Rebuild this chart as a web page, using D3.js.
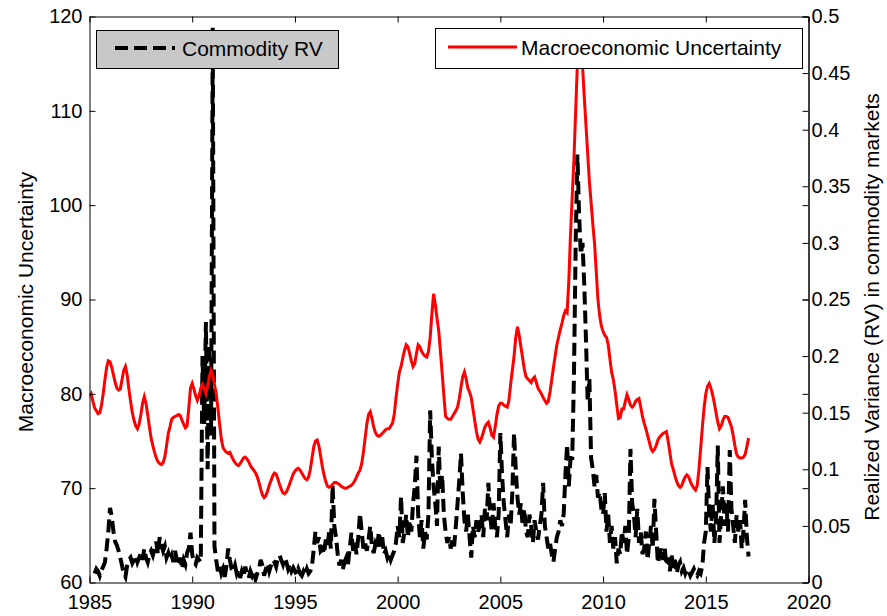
<!DOCTYPE html>
<html>
<head>
<meta charset="utf-8">
<script src="https://cdn.jsdelivr.net/npm/d3@7"></script>
<style>
  body { margin: 0; background: #fff; }
  text { font-family: "Liberation Sans", Arial, sans-serif; fill: #000; }
</style>
</head>
<body>
<div id="app"></div>
<script>
// Macroeconomic uncertainty, monthly, first value = Jan 1985
let macroStart = 1985;
let macroUncertainty = [
  79.7, 80.0, 79.2, 78.5, 78.2, 77.9, 78.0, 78.8, 80.0, 81.5, 82.8, 83.5,
  83.4, 82.8, 82.0, 81.2, 80.6, 80.4, 80.5, 81.5, 82.5, 82.9, 82.0, 80.5,
  79.2, 78.0, 77.2, 76.6, 76.3, 76.8, 77.8, 79.0, 79.7, 79.0, 77.8, 76.5,
  75.3, 74.5, 73.8, 73.2, 72.8, 72.6, 72.5, 72.7, 73.3, 74.5, 75.8, 76.5,
  77.3, 77.5, 77.6, 77.7, 77.8, 77.7, 77.2, 76.8, 76.4, 76.6, 78.5, 80.6,
  81.1, 80.5, 79.8, 79.3, 79.8, 80.6, 81.0, 80.5, 80.0, 80.8, 81.8, 82.5,
  82.0, 81.0, 80.0, 78.5, 76.8, 75.2, 74.3, 74.0, 73.8, 73.7, 73.8, 73.4,
  73.0, 72.7, 72.5, 72.4, 72.6, 72.9, 73.2, 73.3, 73.1, 72.8, 72.4, 72.1,
  71.9, 71.6, 71.2, 70.6, 69.9, 69.3, 69.0, 69.2, 69.7, 70.3, 70.8, 71.3,
  71.6, 71.5, 71.0, 70.4, 69.9, 69.5, 69.4, 69.6, 70.0, 70.5, 71.0, 71.5,
  71.8, 72.0, 72.1, 71.9, 71.6, 71.3, 71.0, 70.9, 71.2, 72.0, 73.2, 74.4,
  75.0, 75.1, 74.5, 73.4, 72.3, 71.4, 70.7, 70.2, 70.1, 70.2, 70.4, 70.6,
  70.6, 70.5, 70.4, 70.2, 70.1, 70.0, 70.0, 70.1, 70.2, 70.3, 70.5, 70.8,
  71.2, 71.6, 71.9, 72.6, 73.8, 75.3, 76.8, 77.8, 78.1, 77.4, 76.5, 75.9,
  75.6, 75.5, 75.6, 75.8, 76.0, 76.2, 76.3, 76.3, 76.6, 76.9, 77.8, 79.5,
  81.0, 82.3, 82.9, 83.8, 84.6, 85.2, 85.0, 84.3, 83.5, 82.9, 83.2, 84.3,
  85.2, 85.0, 84.5, 84.2, 84.0, 83.9, 84.5, 86.0, 88.5, 90.6, 89.5, 88.0,
  86.7, 84.5, 82.2, 79.8, 77.6, 77.4, 77.3, 77.3, 77.6, 77.9, 78.2, 78.6,
  79.5, 80.7, 81.8, 82.3, 81.6, 80.6, 80.2, 79.6, 78.4, 77.2, 76.0, 75.2,
  74.9, 75.3, 75.9, 76.5, 76.8, 77.0, 76.4, 75.6, 75.4, 76.5, 77.8, 78.7,
  79.0, 79.0, 78.8, 78.7, 78.6, 79.3, 81.0, 82.5, 84.0, 86.0, 87.1, 86.2,
  85.0, 83.8, 82.6, 81.8, 81.6, 81.4, 81.2, 81.6, 81.8, 81.2, 80.6, 80.3,
  80.0, 79.6, 79.3, 79.0, 79.2, 80.2, 81.5, 82.8, 84.0, 85.2, 86.0, 86.8,
  87.5, 88.3, 88.8, 88.6, 92.0, 97.0, 101.0, 105.0, 110.0, 115.0, 116.8, 116.5,
  114.8, 111.5, 108.5, 105.5, 102.5, 100.3, 98.0, 96.0, 93.0, 90.0, 88.3, 87.2,
  86.6, 86.2, 86.0, 85.2, 83.7, 82.3, 81.5, 80.3, 78.8, 77.4, 77.5, 78.4,
  78.4, 79.2, 79.9, 79.4, 78.8, 78.6, 78.8, 79.2, 79.4, 79.5, 78.6, 77.6,
  76.9, 76.3, 75.6, 74.9, 74.2, 73.9, 74.1, 74.5, 75.1, 75.4, 75.6, 75.8,
  75.9, 76.0, 75.0, 73.8, 72.6, 72.0, 71.3, 70.7, 70.3, 70.1, 70.3, 70.8,
  71.2, 71.4, 71.2, 70.7, 70.3, 70.0, 69.8, 70.3, 72.0, 74.2, 76.5, 78.5,
  80.0, 80.8, 81.1, 80.6, 79.9, 79.0, 78.0, 77.0, 76.3, 76.6, 77.2, 77.6,
  77.6, 77.5, 77.0, 76.5, 75.6, 74.5, 73.6, 73.3, 73.2, 73.2, 73.3, 73.6,
  74.4, 75.3
];

// Realized variance in commodity markets, monthly, first value = Apr 1985
let rvStart = 1985.25;
let commodityRV = [
  0.008, 0.012, 0.010, 0.006, 0.011, 0.014, 0.018, 0.030, 0.045,
  0.066, 0.058, 0.045, 0.036, 0.033, 0.028, 0.022, 0.015, 0.008, 0.005, 0.015, 0.020,
  0.022, 0.017, 0.020, 0.024, 0.018, 0.022, 0.026, 0.020, 0.030, 0.022, 0.018, 0.025,
  0.028, 0.024, 0.030, 0.036, 0.025, 0.040, 0.034, 0.028, 0.032, 0.022, 0.026, 0.020,
  0.024, 0.018, 0.028, 0.020, 0.015, 0.022, 0.012, 0.020, 0.016, 0.026, 0.030, 0.044,
  0.025, 0.018, 0.016, 0.022, 0.020, 0.018, 0.200, 0.140, 0.230, 0.100, 0.210, 0.130,
  0.490, 0.032, 0.020, 0.010, 0.015, 0.008, 0.012, 0.005, 0.015, 0.030, 0.020, 0.012,
  0.010, 0.015, 0.008, 0.012, 0.004, 0.010, 0.006, 0.014, 0.008, 0.004, 0.010, 0.006,
  0.010, 0.003, 0.008, 0.012, 0.020, 0.015, 0.006, 0.012, 0.017, 0.010, 0.015, 0.020,
  0.018, 0.014, 0.022, 0.024, 0.020, 0.016, 0.022, 0.018, 0.012, 0.016, 0.010, 0.013,
  0.010, 0.007, 0.012, 0.008, 0.006, 0.010, 0.007, 0.012, 0.008, 0.010, 0.015, 0.030,
  0.045, 0.035, 0.040, 0.028, 0.030, 0.025, 0.038, 0.032, 0.045, 0.030, 0.086, 0.050,
  0.040, 0.025, 0.015, 0.020, 0.012, 0.018, 0.022, 0.016, 0.030, 0.044, 0.028, 0.035,
  0.025, 0.040, 0.061, 0.045, 0.030, 0.035, 0.028, 0.038, 0.050, 0.032, 0.026, 0.034,
  0.030, 0.045, 0.032, 0.040, 0.025, 0.028, 0.022, 0.026, 0.020, 0.024, 0.028, 0.035,
  0.050, 0.040, 0.076, 0.035, 0.045, 0.060, 0.040, 0.055, 0.045, 0.070, 0.085, 0.112,
  0.060, 0.040, 0.055, 0.030, 0.045, 0.038, 0.060, 0.152, 0.110, 0.085, 0.070, 0.050,
  0.120, 0.080, 0.095, 0.060, 0.045, 0.035, 0.040, 0.030, 0.038, 0.032, 0.050, 0.070,
  0.090, 0.114, 0.080, 0.055, 0.045, 0.060, 0.040, 0.022, 0.050, 0.040, 0.055, 0.045,
  0.050, 0.060, 0.040, 0.065, 0.055, 0.088, 0.060, 0.045, 0.070, 0.050, 0.040, 0.060,
  0.132, 0.095, 0.070, 0.055, 0.040, 0.060, 0.050, 0.080, 0.132, 0.100, 0.075, 0.060,
  0.070, 0.050, 0.065, 0.045, 0.040, 0.060, 0.050, 0.035, 0.055, 0.045, 0.038, 0.050,
  0.060, 0.088, 0.050, 0.040, 0.030, 0.035, 0.025, 0.018, 0.030, 0.040, 0.045, 0.055,
  0.050, 0.061, 0.095, 0.122, 0.085, 0.110, 0.110, 0.183, 0.300, 0.378, 0.325, 0.290,
  0.300, 0.264, 0.215, 0.160, 0.180, 0.110, 0.100, 0.085, 0.095, 0.075, 0.080, 0.065,
  0.060, 0.079, 0.045, 0.060, 0.035, 0.050, 0.030, 0.040, 0.017, 0.030, 0.025, 0.045,
  0.035, 0.050, 0.025, 0.040, 0.118, 0.070, 0.060, 0.040, 0.065, 0.035, 0.045, 0.025,
  0.030, 0.045, 0.020, 0.035, 0.050, 0.030, 0.074, 0.045, 0.017, 0.025, 0.030, 0.020,
  0.031, 0.015, 0.022, 0.010, 0.025, 0.012, 0.020, 0.008, 0.015, 0.018, 0.010, 0.013,
  0.008, 0.012, 0.010, 0.006, 0.009, 0.012, 0.008, 0.006, 0.010, 0.008, 0.015, 0.035,
  0.045, 0.102, 0.060, 0.045, 0.070, 0.035, 0.055, 0.121, 0.035, 0.060, 0.085, 0.050,
  0.070, 0.045, 0.117, 0.065, 0.050, 0.035, 0.060, 0.045, 0.055, 0.030, 0.045, 0.073,
  0.040, 0.023
];

let yearTicks = [1985, 1990, 1995, 2000, 2005, 2010, 2015, 2020];
let leftTicks = [60, 70, 80, 90, 100, 110, 120];
let rightTicks = [0, 0.05, 0.1, 0.15, 0.2, 0.25, 0.3, 0.35, 0.4, 0.45, 0.5];
let seriesNames = ["Commodity RV", "Macroeconomic Uncertainty"];

let plotLeft = 89.5, plotRight = 808.5, plotTop = 16.5, plotBottom = 582.5;

let svg = d3.select("#app")
  .append("svg")
    .attr("width", 887)
    .attr("height", 616);

svg.append("rect")
    .attr("width", 887)
    .attr("height", 616)
    .attr("fill", "#fff");

// scales
let x = d3.scaleLinear().domain([1985, 2020]).range([plotLeft, plotRight]);
let yLeft = d3.scaleLinear().domain([60, 120]).range([plotBottom, plotTop]);
let yRight = d3.scaleLinear().domain([0, 0.5]).range([plotBottom, plotTop]);

// build {t, v} rows from the monthly arrays
let macroRows = macroUncertainty.map((v, i) => ({t: macroStart + i / 12, v: v}));
let rvRows = commodityRV.map((v, i) => ({t: rvStart + i / 12, v: v}));

svg.append("clipPath")
    .attr("id", "plotclip")
  .append("rect")
    .attr("x", plotLeft)
    .attr("y", plotTop)
    .attr("width", plotRight - plotLeft)
    .attr("height", plotBottom - plotTop);

let lines = svg.append("g").attr("clip-path", "url(#plotclip)");

// black dashed line (right axis)
lines.append("path")
    .datum(rvRows)
    .attr("fill", "none")
    .attr("stroke", "#000")
    .attr("stroke-width", 4)
    .attr("stroke-dasharray", "13,6")
    .attr("d", d3.line().x(d => x(d.t)).y(d => yRight(d.v)));

// red line (left axis)
lines.append("path")
    .datum(macroRows)
    .attr("fill", "none")
    .attr("stroke", "#ff0000")
    .attr("stroke-width", 3)
    .attr("d", d3.line().x(d => x(d.t)).y(d => yLeft(d.v)));

// axes, ticks pointing inward like matlab
function styleAxis(g, size) {
  g.attr("font-size", size)
   .attr("font-family", "'Liberation Sans', Arial, sans-serif");
  g.selectAll("path, line").attr("stroke", "#000");
  g.selectAll("text").attr("fill", "#000");
}

svg.append("g")
    .attr("transform", "translate(0," + plotBottom + ")")
    .call(d3.axisBottom(x).tickValues(yearTicks).tickFormat(d3.format("d"))
      .tickSizeInner(-6).tickSizeOuter(0).tickPadding(12))
    .call(g => styleAxis(g, 20));

svg.append("g")
    .attr("transform", "translate(0," + plotTop + ")")
    .call(d3.axisTop(x).tickValues(yearTicks).tickFormat("")
      .tickSizeInner(-6).tickSizeOuter(0))
    .call(g => styleAxis(g, 20));

svg.append("g")
    .attr("transform", "translate(" + plotLeft + ",0)")
    .call(d3.axisLeft(yLeft).tickValues(leftTicks)
      .tickSizeInner(-6).tickSizeOuter(0).tickPadding(7))
    .call(g => styleAxis(g, 20));

// left ticks mirrored on right edge (box on)
svg.append("g")
    .attr("transform", "translate(" + plotRight + ",0)")
    .call(d3.axisRight(yLeft).tickValues(leftTicks).tickFormat("")
      .tickSizeInner(-6).tickSizeOuter(0))
    .call(g => styleAxis(g, 20));

svg.append("g")
    .attr("transform", "translate(" + plotRight + ",0)")
    .call(d3.axisRight(yRight).tickValues(rightTicks).tickFormat(d => d === 0 ? "0" : String(d))
      .tickSizeInner(-6).tickSizeOuter(0).tickPadding(3))
    .call(g => styleAxis(g, 20));

// axis titles
svg.append("text")
    .attr("transform", "translate(33,302) rotate(-90)")
    .attr("text-anchor", "middle")
    .attr("font-size", 21)
    .text("Macroeconomic Uncertainty");

svg.append("text")
    .attr("transform", "translate(879,307) rotate(-90)")
    .attr("text-anchor", "middle")
    .attr("font-size", 21)
    .text("Realized Variance (RV) in commodity markets");

// legend for commodity RV (grey box)
let leg1 = svg.append("g");
leg1.append("rect")
    .attr("x", 96.5).attr("y", 30.5)
    .attr("width", 242).attr("height", 38)
    .attr("fill", "#c8c8c8")
    .attr("stroke", "#000");
leg1.append("line")
    .attr("x1", 115).attr("x2", 175)
    .attr("y1", 48).attr("y2", 48)
    .attr("stroke", "#000")
    .attr("stroke-width", 4)
    .attr("stroke-dasharray", "13,6");
leg1.append("text")
    .attr("x", 182).attr("y", 56)
    .attr("font-size", 21)
    .text(seriesNames[0]);

// legend for macro uncertainty (white box)
let leg2 = svg.append("g");
leg2.append("rect")
    .attr("x", 435.5).attr("y", 28.5)
    .attr("width", 367).attr("height", 40)
    .attr("fill", "#fff")
    .attr("stroke", "#000");
leg2.append("line")
    .attr("x1", 448).attr("x2", 517)
    .attr("y1", 47).attr("y2", 47)
    .attr("stroke", "#ff0000")
    .attr("stroke-width", 3);
leg2.append("text")
    .attr("x", 521).attr("y", 55)
    .attr("font-size", 21)
    .text(seriesNames[1]);
</script>
</body>
</html>
